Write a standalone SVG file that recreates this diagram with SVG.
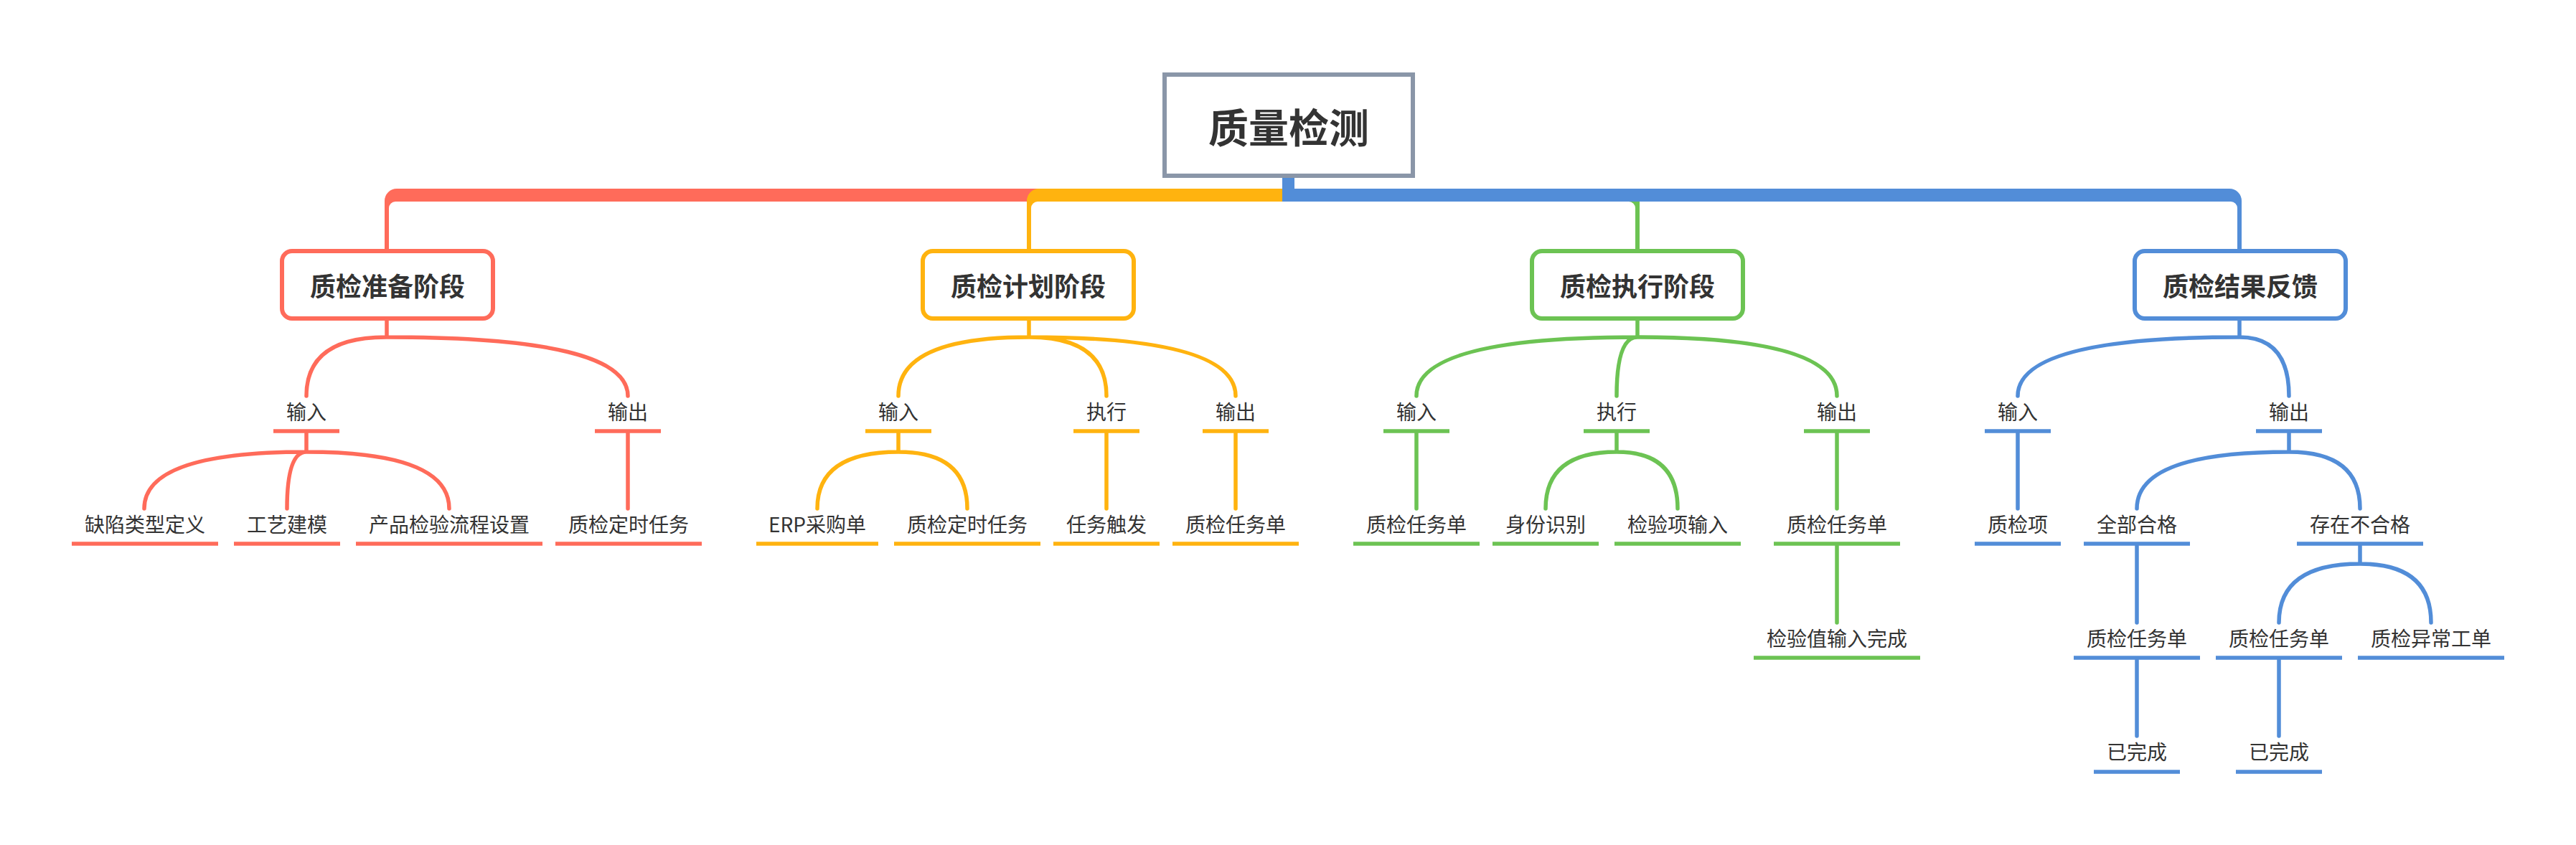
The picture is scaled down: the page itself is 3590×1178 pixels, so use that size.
<svg xmlns="http://www.w3.org/2000/svg" width="3590" height="1178" viewBox="0 0 3590 1178">
<style>
.t{font-family:"Noto Sans CJK SC","Noto Sans",sans-serif;fill:#333333;text-anchor:middle;dominant-baseline:central}
.s{font-size:28px}
.m{font-size:36px;font-weight:bold}
.big{font-size:56px;font-weight:bold}
.c{fill:none;stroke-width:5.5;stroke-linecap:round}
.u{stroke-width:5.5;fill:none}
.box{fill:#ffffff;stroke-width:6}
.r{stroke:#FF6B5A}.o{stroke:#FFB30F}.g{stroke:#6CC353}.b{stroke:#528DD8}
.fr{fill:#FF6B5A}.fo{fill:#FFB30F}.fg{fill:#6CC353}.fb{fill:#528DD8}
</style>
<rect width="3590" height="1178" fill="#ffffff"/>
<g id="connectors">
  <path class="fr" d="M 1796 263 L 553 263 A 17 17 0 0 0 536 280 L 536 350 L 542 350 L 542 290 A 9 9 0 0 1 551 281 L 1796 281 Z"/>
  <path class="fo" d="M 1796 263 L 1448 263 A 17 17 0 0 0 1431 280 L 1431 350 L 1437 350 L 1437 290 A 9 9 0 0 1 1446 281 L 1796 281 Z"/>
  <path class="fg" d="M 1796 263 L 2268 263 A 17 17 0 0 1 2285 280 L 2285 350 L 2279 350 L 2279 290 A 9 9 0 0 0 2270 281 L 1796 281 Z"/>
  <path class="fb" d="M 1787 246 L 1787 281 L 3109 281 A 9 9 0 0 1 3118 290 L 3118 350 L 3124 350 L 3124 280 A 17 17 0 0 0 3107 263 L 1804 263 L 1804 246 Z"/>
  <!-- red -->
  <path class="c r" d="M 539 445 L 539 470 M 539 470 Q 427 470 427 552 M 539 470 Q 875 470 875 552"/>
  <path class="c r" d="M 427 604 L 427 630 M 427 630 Q 201 630 201 709 M 427 630 Q 400 630 400 709 M 427 630 Q 626 630 626 709 M 875 604 L 875 709"/>
  <!-- orange -->
  <path class="c o" d="M 1434 445 L 1434 470 M 1434 470 Q 1252 470 1252 552 M 1434 470 Q 1542 470 1542 552 M 1434 470 Q 1722 470 1722 552"/>
  <path class="c o" d="M 1252 604 L 1252 630 M 1252 630 Q 1139 630 1139 709 M 1252 630 Q 1348 630 1348 709 M 1542 604 L 1542 709 M 1722 604 L 1722 709"/>
  <!-- green -->
  <path class="c g" d="M 2282 445 L 2282 470 M 2282 470 Q 1974 470 1974 552 M 2282 470 Q 2253 470 2253 552 M 2282 470 Q 2560 470 2560 552"/>
  <path class="c g" d="M 1974 604 L 1974 709 M 2253 604 L 2253 630 M 2253 630 Q 2154 630 2154 709 M 2253 630 Q 2338 630 2338 709 M 2560 604 L 2560 709 M 2560 761 L 2560 868"/>
  <!-- blue -->
  <path class="c b" d="M 3121 445 L 3121 470 M 3121 470 Q 2812 470 2812 552 M 3121 470 Q 3190 470 3190 552"/>
  <path class="c b" d="M 2812 604 L 2812 709 M 3190 604 L 3190 630 M 3190 630 Q 2978 630 2978 709 M 3190 630 Q 3289 630 3289 709"/>
  <path class="c b" d="M 2978 761 L 2978 868 M 3289 761 L 3289 786 M 3289 786 Q 3176 786 3176 868 M 3289 786 Q 3388 786 3388 868 M 2978 920 L 2978 1026 M 3176 920 L 3176 1026"/>
</g>
<g id="root">
  <rect class="box" x="1623" y="104" width="346" height="141" style="stroke:#8A96A8"/>
  <text class="t big" x="1796" y="174">质量检测</text>
</g>
<g id="n-prep">
  <rect class="box r" x="393" y="350" width="294" height="94" rx="14"/>
  <text class="t m" x="540" y="397">质检准备阶段</text>
</g>
<g id="n-plan">
  <rect class="box o" x="1286" y="350" width="294" height="94" rx="14"/>
  <text class="t m" x="1433" y="397">质检计划阶段</text>
</g>
<g id="n-exec">
  <rect class="box g" x="2135" y="350" width="294" height="94" rx="14"/>
  <text class="t m" x="2282" y="397">质检执行阶段</text>
</g>
<g id="n-feedback">
  <rect class="box b" x="2975" y="350" width="294" height="94" rx="14"/>
  <text class="t m" x="3122" y="397">质检结果反馈</text>
</g>
<!-- red branch -->
<g id="r-in"><text class="t s" x="427" y="573">输入</text><line class="u r" x1="381" y1="601" x2="473" y2="601"/></g>
<g id="r-out"><text class="t s" x="875" y="573">输出</text><line class="u r" x1="829" y1="601" x2="921" y2="601"/></g>
<g id="r-defect"><text class="t s" x="202" y="730">缺陷类型定义</text><line class="u r" x1="100" y1="758" x2="304" y2="758"/></g>
<g id="r-craft"><text class="t s" x="400" y="730">工艺建模</text><line class="u r" x1="326" y1="758" x2="474" y2="758"/></g>
<g id="r-flow"><text class="t s" x="626" y="730">产品检验流程设置</text><line class="u r" x1="496" y1="758" x2="756" y2="758"/></g>
<g id="r-timer"><text class="t s" x="876" y="730">质检定时任务</text><line class="u r" x1="774" y1="758" x2="978" y2="758"/></g>
<!-- orange branch -->
<g id="o-in"><text class="t s" x="1252" y="573">输入</text><line class="u o" x1="1206" y1="601" x2="1298" y2="601"/></g>
<g id="o-run"><text class="t s" x="1542" y="573">执行</text><line class="u o" x1="1496" y1="601" x2="1588" y2="601"/></g>
<g id="o-out"><text class="t s" x="1722" y="573">输出</text><line class="u o" x1="1676" y1="601" x2="1768" y2="601"/></g>
<g id="o-erp"><text class="t s" x="1139" y="730">ERP采购单</text><line class="u o" x1="1054" y1="758" x2="1224" y2="758"/></g>
<g id="o-timer"><text class="t s" x="1348" y="730">质检定时任务</text><line class="u o" x1="1246" y1="758" x2="1450" y2="758"/></g>
<g id="o-trigger"><text class="t s" x="1542" y="730">任务触发</text><line class="u o" x1="1468" y1="758" x2="1616" y2="758"/></g>
<g id="o-task"><text class="t s" x="1722" y="730">质检任务单</text><line class="u o" x1="1634" y1="758" x2="1810" y2="758"/></g>
<!-- green branch -->
<g id="g-in"><text class="t s" x="1974" y="573">输入</text><line class="u g" x1="1928" y1="601" x2="2020" y2="601"/></g>
<g id="g-run"><text class="t s" x="2253" y="573">执行</text><line class="u g" x1="2207" y1="601" x2="2299" y2="601"/></g>
<g id="g-out"><text class="t s" x="2560" y="573">输出</text><line class="u g" x1="2514" y1="601" x2="2606" y2="601"/></g>
<g id="g-task1"><text class="t s" x="1974" y="730">质检任务单</text><line class="u g" x1="1886" y1="758" x2="2062" y2="758"/></g>
<g id="g-id"><text class="t s" x="2154" y="730">身份识别</text><line class="u g" x1="2080" y1="758" x2="2228" y2="758"/></g>
<g id="g-item"><text class="t s" x="2338" y="730">检验项输入</text><line class="u g" x1="2250" y1="758" x2="2426" y2="758"/></g>
<g id="g-task2"><text class="t s" x="2560" y="730">质检任务单</text><line class="u g" x1="2472" y1="758" x2="2648" y2="758"/></g>
<g id="g-done"><text class="t s" x="2560" y="889">检验值输入完成</text><line class="u g" x1="2444" y1="917" x2="2676" y2="917"/></g>
<!-- blue branch -->
<g id="b-in"><text class="t s" x="2812" y="573">输入</text><line class="u b" x1="2766" y1="601" x2="2858" y2="601"/></g>
<g id="b-out"><text class="t s" x="3190" y="573">输出</text><line class="u b" x1="3144" y1="601" x2="3236" y2="601"/></g>
<g id="b-item"><text class="t s" x="2812" y="730">质检项</text><line class="u b" x1="2752" y1="758" x2="2872" y2="758"/></g>
<g id="b-pass"><text class="t s" x="2978" y="730">全部合格</text><line class="u b" x1="2904" y1="758" x2="3052" y2="758"/></g>
<g id="b-fail"><text class="t s" x="3289" y="730">存在不合格</text><line class="u b" x1="3201" y1="758" x2="3377" y2="758"/></g>
<g id="b-task1"><text class="t s" x="2978" y="889">质检任务单</text><line class="u b" x1="2890" y1="917" x2="3066" y2="917"/></g>
<g id="b-task2"><text class="t s" x="3176" y="889">质检任务单</text><line class="u b" x1="3088" y1="917" x2="3264" y2="917"/></g>
<g id="b-abn"><text class="t s" x="3388" y="889">质检异常工单</text><line class="u b" x1="3286" y1="917" x2="3490" y2="917"/></g>
<g id="b-done1"><text class="t s" x="2978" y="1047">已完成</text><line class="u b" x1="2918" y1="1076" x2="3038" y2="1076"/></g>
<g id="b-done2"><text class="t s" x="3176" y="1047">已完成</text><line class="u b" x1="3116" y1="1076" x2="3236" y2="1076"/></g>
</svg>
